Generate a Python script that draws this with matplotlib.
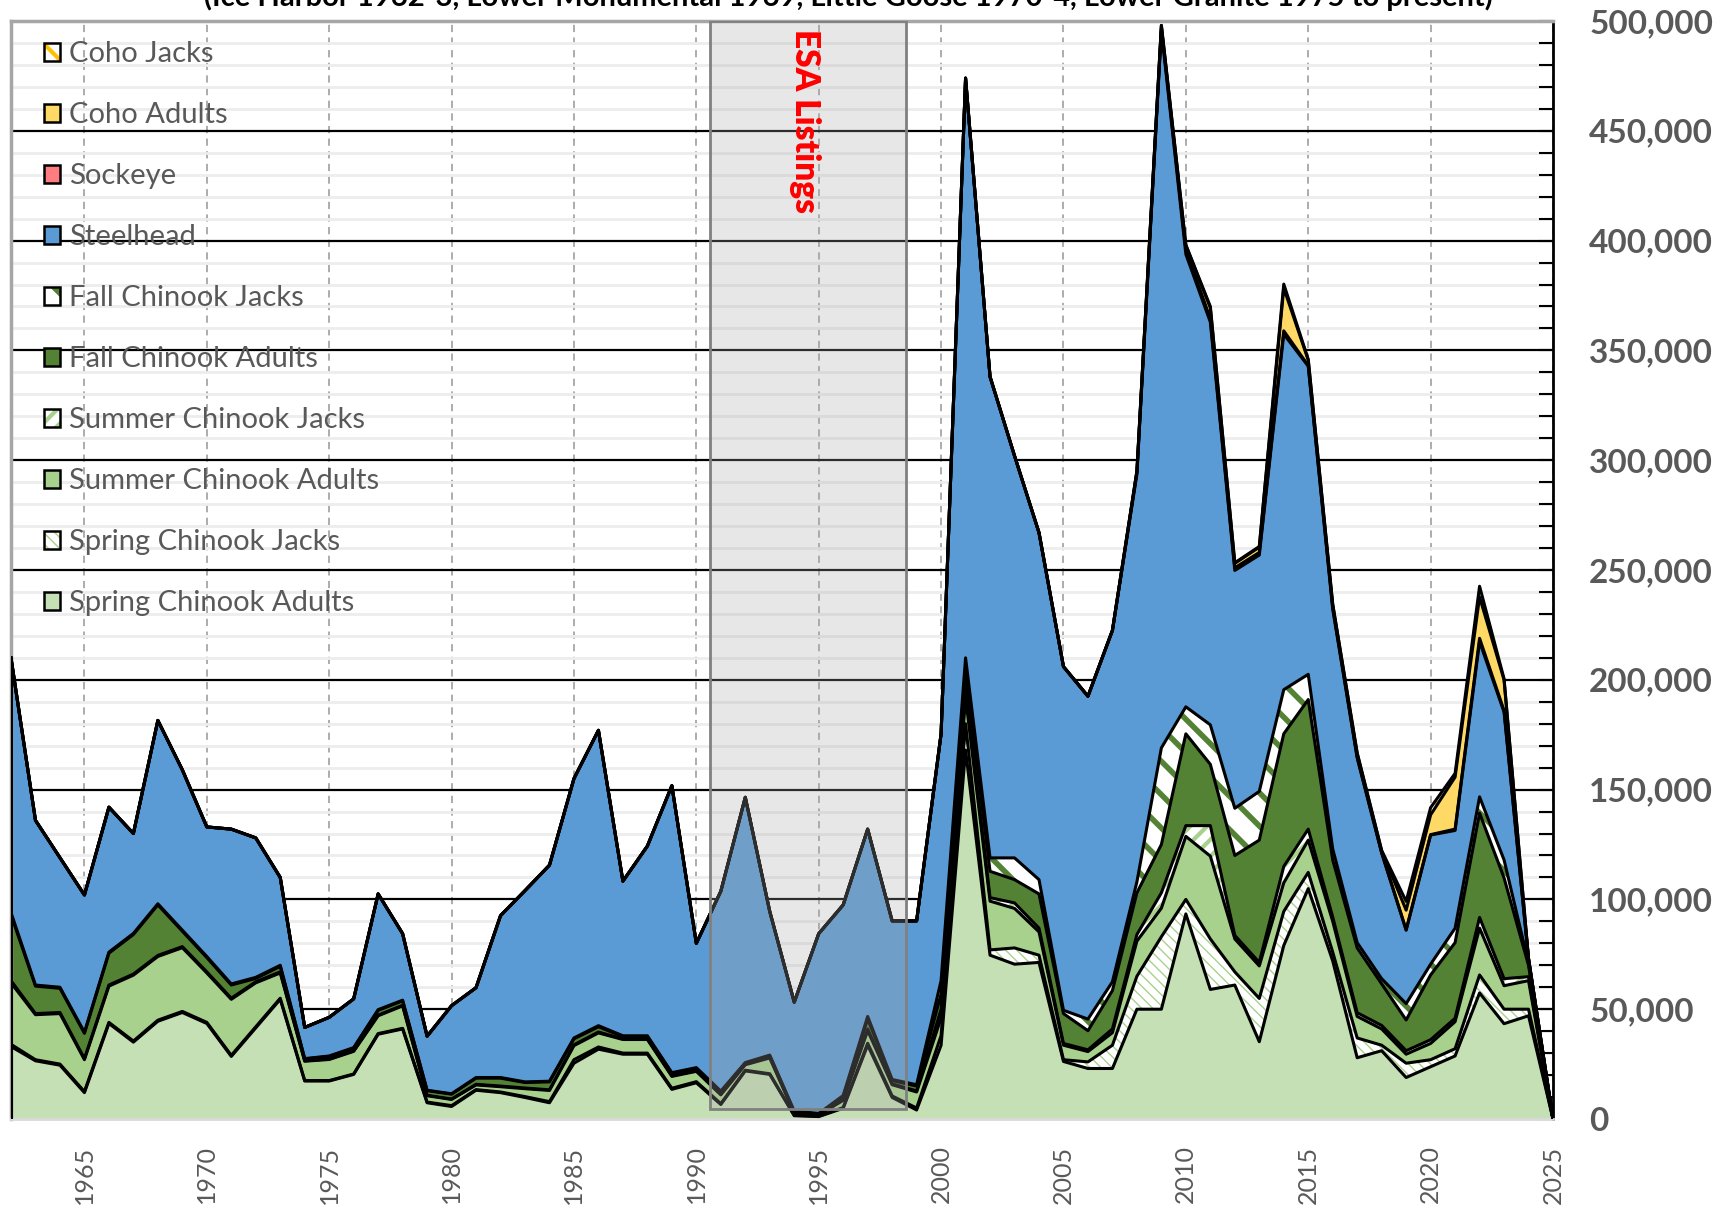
import matplotlib
matplotlib.use("Agg")
import matplotlib.pyplot as plt
from matplotlib.patches import Patch, Rectangle
from matplotlib.legend_handler import HandlerBase
from matplotlib.ticker import MultipleLocator, FuncFormatter
import numpy as np

plt.rcParams['font.family'] = ['Lato', 'DejaVu Sans']

# ---- data (fish counts per year) ----
years = list(range(1962, 2026))

spring_adults = [33000, 26500, 24500, 12000, 43500, 35000, 44500, 48500, 43500, 28500,
                 41500, 54500, 17300, 17300, 20300, 38600, 41000, 7400, 5700, 13100,
                 12000, 9800, 7400, 25400, 31800, 29500, 29500, 13500, 16500, 6600,
                 21900, 20300, 1500, 1100, 4900, 33600, 9800, 4100, 33600, 168000,
                 74600, 70500, 71300, 26200, 23000, 23000, 50000, 50000, 93400, 59000,
                 61000, 35200, 79000, 104900, 72000, 27900, 31100, 18900, 23800, 28700,
                 57400, 43400, 47000, 0]
spring_jacks = [1000, 500, 500, 500, 500, 500, 500, 500, 500, 500,
                500, 500, 200, 200, 200, 300, 300, 300, 400, 300,
                300, 400, 500, 1600, 1000, 500, 500, 500, 500, 400,
                300, 300, 200, 200, 300, 900, 700, 900, 4400, 12000,
                2400, 7400, 3300, 800, 3000, 10600, 15000, 33000, 6600, 23000,
                6000, 19700, 15500, 7400, 4000, 9000, 2500, 6500, 3200, 3300,
                8200, 6600, 3000, 0]
summer_adults = [28000, 20500, 23000, 14500, 16500, 30000, 29000, 29000, 22500, 25500,
                 20000, 11500, 8800, 9600, 10300, 8100, 10200, 2900, 2800, 2100,
                 2400, 3600, 5100, 6400, 6400, 6200, 6200, 5400, 4700, 4000,
                 2500, 7200, 900, 500, 3300, 5700, 5100, 7300, 8000, 12000,
                 22200, 18000, 10600, 6600, 4700, 5700, 16000, 13000, 28700, 37700,
                 15000, 14800, 13000, 14700, 14000, 9800, 7400, 4100, 7400, 12300,
                 21300, 10700, 13000, 0]
summer_jacks = [1000, 500, 500, 500, 500, 500, 500, 500, 500, 500,
                500, 500, 200, 200, 200, 300, 300, 200, 200, 300,
                300, 300, 300, 400, 400, 300, 300, 300, 300, 300,
                300, 300, 200, 100, 300, 800, 400, 500, 4000, 4000,
                1600, 2500, 1700, 800, 800, 1700, 3000, 7000, 4900, 13900,
                1600, 1600, 7500, 5000, 2000, 1700, 1600, 1600, 1700, 1600,
                4900, 3200, 1800, 0]
fall_adults = [30000, 12500, 11000, 11500, 14500, 18000, 23000, 7000, 6500, 6000,
               1500, 2500, 800, 1200, 1300, 2200, 2000, 2100, 2200, 2800,
               3600, 2500, 3600, 2700, 2400, 1000, 1000, 1100, 1000, 1000,
               400, 600, 500, 400, 1400, 4500, 1500, 2200, 7000, 8000,
               12000, 10600, 15600, 13600, 8700, 17500, 19000, 22000, 41800, 27900,
               36400, 55700, 60400, 59000, 26000, 29500, 18900, 14000, 29500, 34400,
               47500, 45900, 5200, 0]
fall_jacks = [1000, 500, 500, 500, 500, 500, 500, 500, 500, 500,
              500, 500, 200, 200, 200, 300, 300, 200, 200, 300,
              300, 300, 300, 400, 500, 400, 400, 300, 400, 400,
              300, 400, 300, 200, 500, 1200, 500, 600, 6000, 6000,
              6100, 9900, 6500, 1500, 5300, 4000, 5000, 44000, 12300, 18000,
              21500, 22200, 20100, 11500, 5000, 2400, 2400, 7400, 4900, 6600,
              7400, 8200, 1000, 0]
steelhead = [116000, 75000, 59000, 62500, 66000, 45500, 83500, 73000, 59000, 70500,
             63500, 40000, 14200, 17600, 22200, 52700, 30300, 24600, 40100, 40900,
             73700, 87100, 98400, 118100, 134500, 70400, 86400, 130700, 56600, 91000,
             120800, 65400, 49600, 81900, 86800, 85300, 72200, 74600, 112400, 264000,
             219100, 183100, 158000, 156500, 147000, 160000, 185600, 326800, 206100, 183400,
             108300, 107600, 161900, 140300, 109200, 84100, 57200, 33500, 58800, 44500,
             70700, 67300, 2000, 0]
sockeye = [0, 0, 0, 0, 0, 0, 0, 0, 0, 0,
           0, 0, 0, 0, 0, 0, 0, 0, 0, 0,
           0, 0, 0, 0, 0, 0, 0, 0, 0, 0,
           0, 0, 0, 0, 0, 0, 0, 0, 0, 0,
           0, 0, 0, 0, 0, 0, 900, 1200, 2200, 1500,
           1200, 1200, 1500, 300, 800, 400, 200, 100, 200, 600,
           1500, 700, 0, 0]
coho_adults = [0, 0, 0, 0, 0, 0, 0, 0, 0, 0,
               0, 0, 0, 0, 0, 0, 0, 0, 0, 0,
               0, 0, 0, 0, 0, 0, 0, 0, 0, 0,
               0, 0, 0, 0, 0, 0, 0, 0, 0, 0,
               0, 0, 0, 0, 0, 0, 500, 1000, 2000, 5000,
               2000, 2400, 19500, 2500, 1200, 1500, 800, 9000, 9000, 23700,
               18800, 14000, 0, 0]
coho_jacks = [0, 0, 0, 0, 0, 0, 0, 0, 0, 0,
              0, 0, 0, 0, 0, 0, 0, 0, 0, 0,
              0, 0, 0, 0, 0, 0, 0, 0, 0, 0,
              0, 0, 0, 0, 0, 0, 0, 0, 0, 0,
              0, 0, 0, 0, 0, 0, 0, 0, 0, 600,
              300, 300, 1800, 300, 300, 500, 200, 4000, 3300, 1700,
              4900, 500, 0, 0]

names = ['Spring Chinook Adults', 'Spring Chinook Jacks', 'Summer Chinook Adults',
         'Summer Chinook Jacks', 'Fall Chinook Adults', 'Fall Chinook Jacks',
         'Steelhead', 'Sockeye', 'Coho Adults', 'Coho Jacks']
series = [spring_adults, spring_jacks, summer_adults, summer_jacks, fall_adults,
          fall_jacks, steelhead, sockeye, coho_adults, coho_jacks]

title = '(Ice Harbor 1962-3, Lower Monumental 1969, Little Goose 1970-4, Lower Granite 1975 to present)'
esa_start, esa_end, esa_bottom = 1990.55, 1998.55, 4500

# ---- styles ----
faces = ['#C5E0B4', 'white', '#A9D18E', 'white', '#548235', 'white',
         '#5B9BD5', '#FF7C80', '#FFD966', 'white']
hatch_cols = [None, '#A9D18E', None, '#A9D18E', None, '#548235',
              None, None, None, '#FFC000']
hatches = [None, '\\\\\\', None, '//', None, '\\', None, None, None, '\\']
hatch_lw = [1, 1, 1, 3, 1, 4, 1, 1, 1, 3]
gray_txt = '#595959'


class SwatchHandler(HandlerBase):
    # square swatch: coloured hatch underneath, black border on top
    def create_artists(self, legend, orig_handle, xdescent, ydescent,
                       width, height, fontsize, trans):
        x, y = -xdescent, -ydescent
        with plt.rc_context({'hatch.linewidth': orig_handle.hatch_lw}):
            fill = Rectangle((x, y), width, height, facecolor=orig_handle.get_facecolor(),
                             edgecolor=orig_handle.hatch_col, hatch=orig_handle.get_hatch(),
                             lw=0, transform=trans)
        if hasattr(fill, 'set_hatch_linewidth'):
            fill.set_hatch_linewidth(orig_handle.hatch_lw)
        border = Rectangle((x, y), width, height, facecolor='none', edgecolor='black',
                           lw=1.8, transform=trans)
        return [fill, border]


fig = plt.figure(figsize=(17.31, 12.08), dpi=100)
ax = fig.add_axes([11 / 1731, 89 / 1208, 1542 / 1731, 1098 / 1208])

data = np.array(series, dtype=float)
cum = np.cumsum(data, axis=0)
lower = np.vstack([np.zeros(len(years)), cum[:-1]])

for i in range(len(names)):
    with plt.rc_context({'hatch.linewidth': hatch_lw[i]}):
        coll = ax.fill_between(years, lower[i], cum[i], facecolor=faces[i],
                               edgecolor=hatch_cols[i] or 'none', hatch=hatches[i],
                               linewidth=0, zorder=2)
    if hasattr(coll, 'set_hatch_linewidth'):
        coll.set_hatch_linewidth(hatch_lw[i])

for i in range(len(names)):
    ax.plot(years, cum[i], color='black', lw=2.2, zorder=3)
ax.vlines(years[0], 0, cum[-1][0], color='black', lw=2.2, zorder=3)

# ESA listings box
ax.add_patch(Rectangle((esa_start, esa_bottom), esa_end - esa_start, 500000 - esa_bottom,
                       facecolor='#A7A7A7', alpha=0.27, edgecolor='none', zorder=4))
ax.add_patch(Rectangle((esa_start, esa_bottom), esa_end - esa_start, 500000 - esa_bottom,
                       facecolor='none', edgecolor='#808080', lw=2, zorder=4))
ax.text((esa_start + esa_end) / 2 - 0.1, 496500, 'ESA Listings', rotation=270, color='red',
        fontsize=24, fontweight='heavy', ha='center', va='top', zorder=5)

# axes & grid
ax.set_xlim(years[0], years[-1])
ax.set_ylim(0, 500000)
ax.set_axisbelow(True)
ax.xaxis.set_major_locator(MultipleLocator(5))
ax.yaxis.set_major_locator(MultipleLocator(50000))
ax.yaxis.set_minor_locator(MultipleLocator(10000))
ax.grid(which='minor', axis='y', color='#EDEDED', lw=2)
ax.grid(which='major', axis='y', color='black', lw=1.6)
ax.grid(which='major', axis='x', color='#A6A6A6', lw=1.3, ls=(0, (4, 3)))
ax.yaxis.tick_right()
ax.yaxis.set_major_formatter(FuncFormatter(lambda v, p: f'{int(v):,}'))
ax.tick_params(axis='y', which='both', direction='in', length=10, width=1.5,
               color='black', pad=26, labelsize=24, labelcolor=gray_txt)
ax.tick_params(axis='x', length=0, pad=19, labelsize=18, labelcolor=gray_txt,
               labelrotation=90)
for lbl in ax.get_yticklabels():
    lbl.set_fontweight('bold')
ax.spines['top'].set_color('#A6A6A6')
ax.spines['top'].set_linewidth(2.5)
ax.spines['left'].set_color('#A6A6A6')
ax.spines['left'].set_linewidth(2.5)
ax.spines['bottom'].set_color('#D9D9D9')
ax.spines['bottom'].set_linewidth(2)
ax.spines['right'].set_color('black')
ax.spines['right'].set_linewidth(2)

# legend (reverse stacking order)
handles = []
for i in range(len(names)):
    h = Patch(facecolor=faces[i], hatch=hatches[i])
    h.hatch_col = hatch_cols[i] or 'none'
    h.hatch_lw = hatch_lw[i]
    handles.append(h)
leg = ax.legend(handles[::-1], names[::-1], loc='upper left',
                bbox_to_anchor=(0.014, 0.992), frameon=False, fontsize=21,
                labelcolor=gray_txt, handlelength=0.55, handleheight=0.55,
                handletextpad=0.3, labelspacing=1.2, borderaxespad=0,
                handler_map={Patch: SwatchHandler()})
leg.set_zorder(6)

fig.text(0.49, 1 - 6 / 1208, title, ha='center', va='baseline',
         fontsize=21, fontweight='bold', color='black')

fig.savefig('out.png', dpi=100)
